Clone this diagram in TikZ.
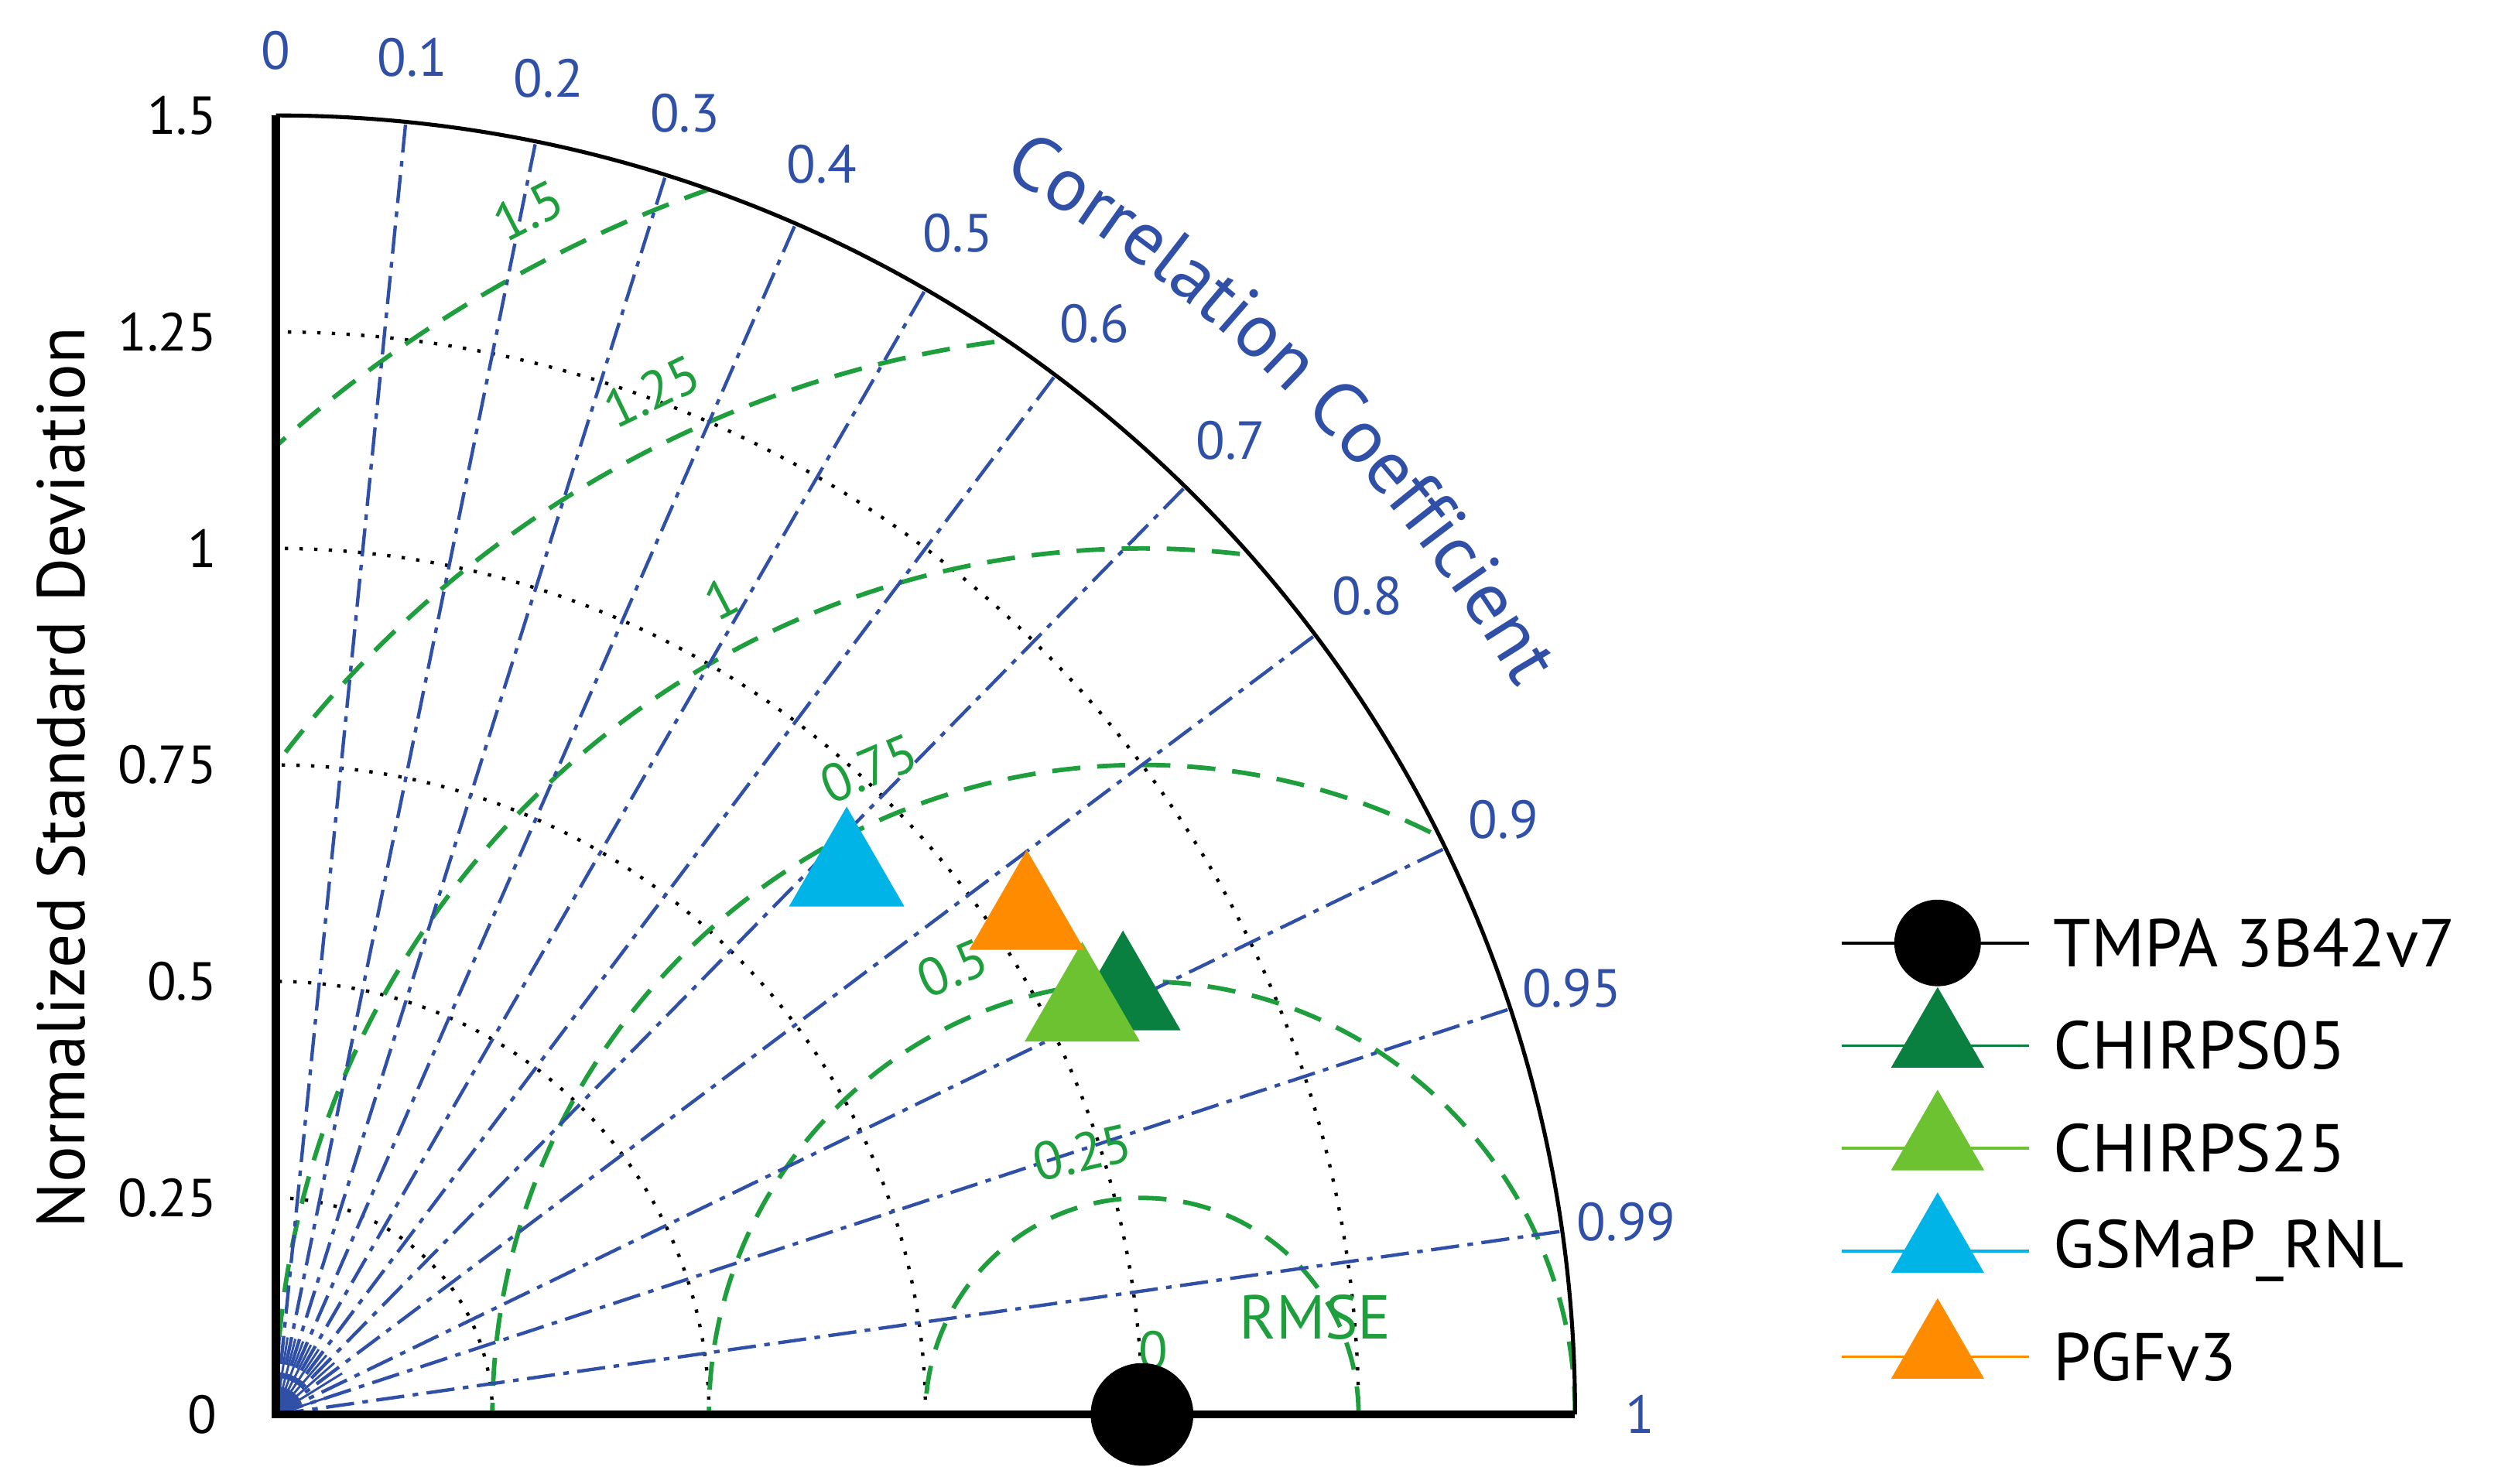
\documentclass[tikz,border=0pt]{standalone}
\usepackage{fontspec}
\setmainfont{PT Sans}
\usetikzlibrary{shapes.geometric,decorations.text,calc}
\definecolor{cblue}{HTML}{3050A8}
\definecolor{rgreen}{HTML}{1E9E3C}
\definecolor{dgreen}{HTML}{0A8040}
\definecolor{lgreen}{HTML}{6CC230}
\definecolor{cyanm}{HTML}{00B4E8}
\definecolor{orangem}{HTML}{FF8C00}
\tikzset{
 corr/.style={cblue, line width=0.6pt, dash pattern=on 5pt off 1.5pt on 1pt off 1.5pt},
 rmsearc/.style={rgreen, line width=0.8pt, dash pattern=on 5pt off 3pt},
 sdarc/.style={black, line width=0.6pt, dotted},
 clab/.style={cblue, font=\fontsize{9.5}{11}\selectfont},
 rlab/.style={rgreen, font=\fontsize{9.5}{11}\selectfont},
 ylab/.style={font=\fontsize{9.5}{11}\selectfont, anchor=east},
 tri/.style={regular polygon, regular polygon sides=3, minimum size=0.83cm, inner sep=0pt, draw=none},
 ltri/.style={regular polygon, regular polygon sides=3, minimum size=0.67cm, inner sep=0pt, draw=none},
 legtext/.style={font=\fontsize{12}{14}\selectfont, anchor=west},
}
\begin{document}
\begin{tikzpicture}
\useasboundingbox (0,0) rectangle (15.68,9.25);
\begin{scope}[shift={(1.72,0.43)}, x=5.4cm, y=5.4cm]
\coordinate (O) at (0,0);
\foreach \c in {0.05,0.15,...,0.95}{
  \draw[cblue, line width=0.4pt] (O) -- ({acos(\c)}:0.09);
}
\foreach \r in {0.25,0.5,0.75,1,1.25}{
  \draw[sdarc] (\r,0) arc (0:90:\r);
}
\begin{scope}
\clip (0,0) -- (1.5,0) arc (0:90:1.5) -- cycle;
\foreach \r in {0.25,0.5,0.75,1,1.25,1.5}{
  \draw[rmsearc] ({1+\r},0) arc (0:180:\r);
}
\end{scope}
\foreach \c in {0.1,0.2,0.3,0.4,0.5,0.6,0.7,0.8,0.9,0.95,0.99}{
  \draw[corr] (O) -- ({acos(\c)}:1.5);
  \node[clab] (cl\c) at ({acos(\c)}:1.575) {\c};
}
\node[clab] (cl0) at (90:1.575) {0};
\node[clab] (cl1) at (0:1.575) {1};
\draw[black, line width=0.7pt] (1.5,0) arc (0:90:1.5);
\draw[black, line width=1.4pt] (0,1.5) -- (O) -- (1.5,0);
\foreach \y/\lab in {0/0,0.25/0.25,0.5/0.5,0.75/0.75,1/1,1.25/1.25,1.5/1.5}{
  \node[ylab] (yl\lab) at (-0.045,\y) {\lab};
}
\foreach \r/\th/\lab in {1.5/117/1.5,1.25/115.6/1.25,1/117.3/1,0.75/112.9/0.75,0.5/113/0.5,0.25/102.8/0.25}{
  \node[rlab, rotate={\th-90}] (rl\lab) at ($(1,0)+(\th:{\r+0.06})$) {\lab};
}
\node[rlab] (rl0) at (1.013,0.074) {0};
\node[rgreen, font=\fontsize{11}{13}\selectfont] (rmse) at (1.2,0.112) {RMSE};
\path[decorate, decoration={text along path, text={|\color{cblue}\fontsize{13.5}{15}\selectfont|Correlation Coefficient}, text align=center}]
  (64:1.66) arc (64:26:1.66);
\node[circle, fill=black, minimum size=0.64cm, inner sep=0pt] (tmpa) at (1,0) {};
\node[tri, fill=dgreen] (ch05) at (0.978,0.482) {};
\node[tri, fill=lgreen] (ch25) at (0.931,0.469) {};
\node[tri, fill=orangem] (pgf) at (0.867,0.575) {};
\node[tri, fill=cyanm] (gsm) at (0.659,0.625) {};
\end{scope}
\foreach \y/\col/\nm/\lab in {3.37/black/l1/TMPA 3B42v7,2.73/dgreen/l2/CHIRPS05,2.09/lgreen/l3/CHIRPS25,1.45/cyanm/l4/GSMaP\_RNL,0.79/orangem/l5/PGFv3}{
  \coordinate (\nm a) at (11.48,\y);
  \coordinate (\nm b) at (12.65,\y);
  \draw[\col, line width=0.5pt] (\nm a) -- (\nm b);
  \node[legtext] (\nm t) at (12.68,\y) {\lab};
}
\node[circle, fill=black, minimum size=0.54cm, inner sep=0pt] (lm1) at (12.08,3.37) {};
\node[ltri, fill=dgreen] (lm2) at (12.08,2.76) {};
\node[ltri, fill=lgreen] (lm3) at (12.08,2.12) {};
\node[ltri, fill=cyanm] (lm4) at (12.08,1.48) {};
\node[ltri, fill=orangem] (lm5) at (12.08,0.82) {};
\node[rotate=90, font=\fontsize{12}{14}\selectfont] (ax) at (0.38,4.40) {Normalized Standard Deviation};
\end{tikzpicture}
\end{document}
